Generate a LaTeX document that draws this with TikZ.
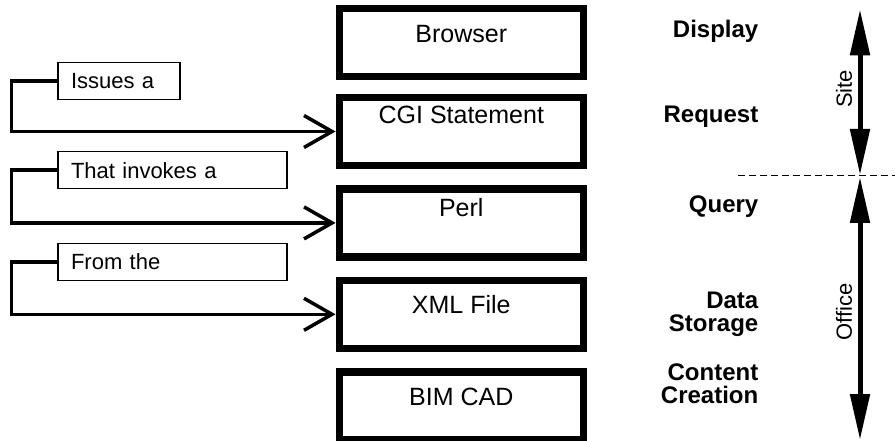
\documentclass[tikz,border=0pt]{standalone}
\usepackage{fontspec}
\setmainfont{Liberation Sans}
\usetikzlibrary{arrows.meta}
\begin{document}
\begin{tikzpicture}[x=1pt,y=-1pt,
  mainbox/.style 2 args={draw, line width=7.5pt, minimum width=244pt, inner sep=0pt,
    text height=#1, text depth=#2, font=\fontsize{25}{30}\selectfont},
  notebox/.style={draw, line width=1.5pt, anchor=north west, minimum height=37pt,
    inner xsep=13pt, inner ysep=0pt, align=left, font=\fontsize{22}{26}\selectfont},
  conn/.style={line width=3.5pt, -{Straight Barb[length=28pt,width=32pt]}},
  tier/.style={anchor=base east, align=right, inner sep=0pt,
    font=\fontsize{24}{23}\selectfont\bfseries},
  span/.style={line width=5pt, {Triangle[length=46pt,width=19pt]}-{Triangle[length=46pt,width=19pt]}},
  spanlabel/.style={rotate=90, font=\fontsize{22}{26}\selectfont}
]
\useasboundingbox (0,0) rectangle (895,441);

% main column
\node[mainbox={34.25pt}{33.75pt}] (browser) at (461.3,42.35) {Browser};
\node[mainbox={26.25pt}{41.75pt}] (cgi) at (461.3,131.5) {CGI Statement};
\node[mainbox={27.5pt}{40.5pt}] (perl) at (461.3,222.9) {Perl};
\node[mainbox={33.25pt}{34.75pt}] (xml) at (461.3,314.3) {XML File};
\node[mainbox={33pt}{35pt}] (bim) at (461.3,406) {BIM CAD};

% note boxes
\node[notebox, text width=96pt] (n1) at (57.3,62) {Issues a};
\node[notebox, text width=203pt] (n2) at (57.3,151) {That invokes a};
\node[notebox, text width=203pt] (n3) at (57.3,242.7) {From the};

% connectors
\draw[conn] (n1.west) -- ++(-45.6,0) |- (cgi.west);
\draw[conn] (n2.west) -- ++(-45.6,0) |- (perl.west);
\draw[conn] (n3.west) -- ++(-45.6,0) |- (xml.west);

% tier labels
\node[tier] (display) at (758.5,37.3) {Display};
\node[tier] (request) at (758.5,123) {Request};
\node[tier] (query) at (758.5,213) {Query};
\node[tier] (storage) at (758.5,331.7) {Data\\Storage};
\node[tier] (creation) at (758.5,403) {Content\\Creation};

% site / office spans
\coordinate (siteTop) at (860,9.3);
\coordinate (siteBot) at (860,175);
\coordinate (officeTop) at (860,177);
\coordinate (officeBot) at (860,440);
\draw[span] (siteTop) -- (siteBot);
\draw[span] (officeTop) -- (officeBot);
\node[spanlabel] (site) at (844,89) {Site};
\node[spanlabel] (office) at (844,312) {Office};

% divider
\coordinate (dashL) at (738,175.5);
\coordinate (dashR) at (895,175.5);
\draw[line width=1.5pt, dash pattern=on 7pt off 4pt] (dashL) -- (dashR);
\end{tikzpicture}
\end{document}
